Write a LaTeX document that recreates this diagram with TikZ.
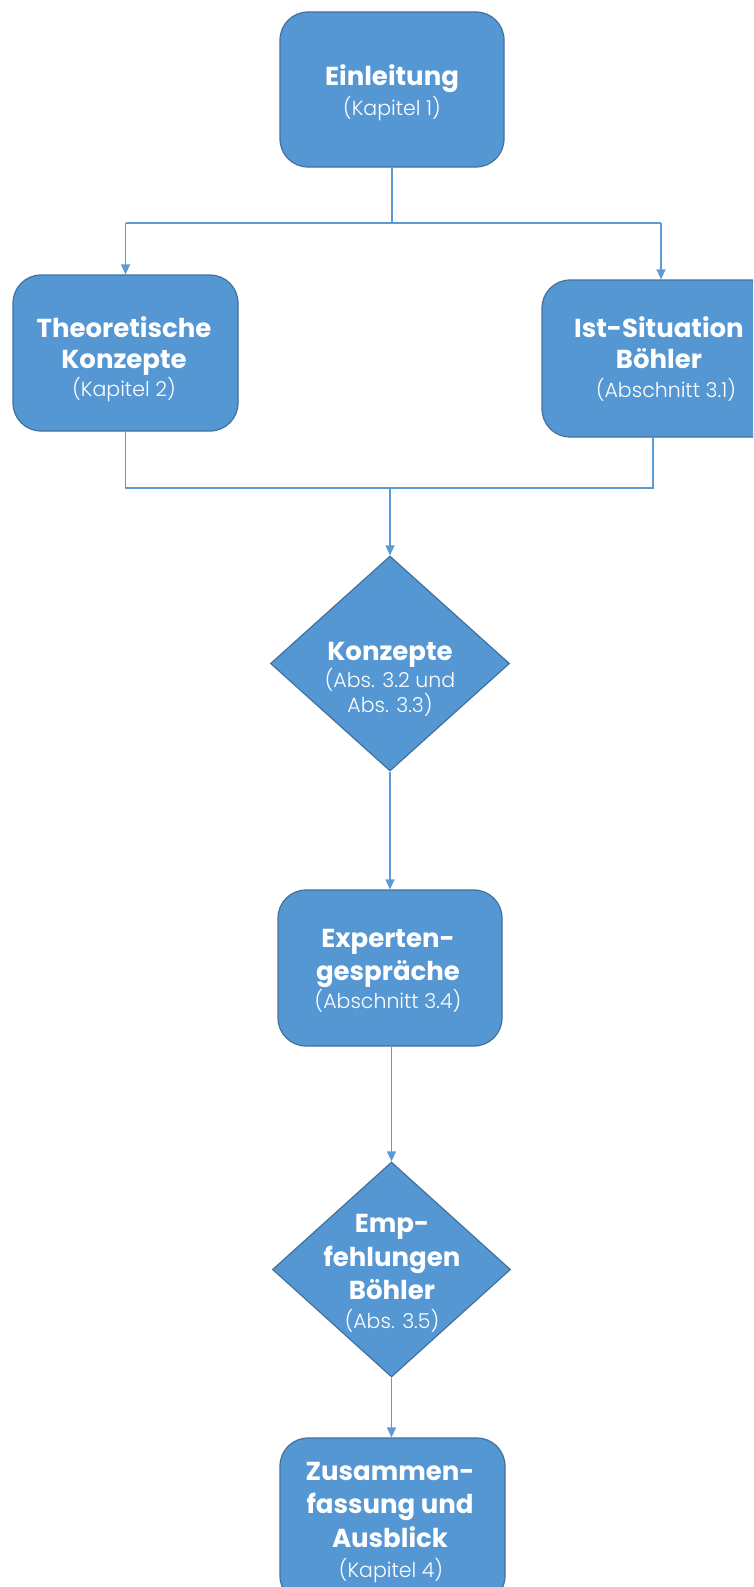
\documentclass[tikz,border=0pt]{standalone}
\usepackage{fontspec}
\setmainfont{Poppins}[BoldFont=* Bold]
\newfontfamily\lightfont{Poppins}[UprightFont=* Light]
\usetikzlibrary{shapes.geometric,arrows.meta}
\definecolor{boxfill}{HTML}{5597D3}
\definecolor{boxline}{HTML}{41719C}
\definecolor{conline}{HTML}{5B9BD5}
\tikzset{
  roundbox/.style={draw=boxline, line width=1.2pt, fill=boxfill, rounded corners=28pt, inner sep=0pt},
  dia/.style={diamond, draw=boxline, line width=1.2pt, fill=boxfill, inner sep=0pt},
  bl/.style={text=white, anchor=base, inner sep=0pt, font=\fontsize{26}{30}\selectfont\bfseries},
  sl/.style={text=white, anchor=base, inner sep=0pt, font=\fontsize{20.5}{24}\selectfont\lightfont},
  con/.style={draw=conline, line width=1.4pt},
  arr/.style={con, -{Triangle[width=9pt,length=10pt]}}
}
\begin{document}
\begin{tikzpicture}[x=1pt,y=-1pt]
\useasboundingbox (0,0) rectangle (753,1587);
\clip (0,0) rectangle (753,1587);
% shapes
\node[roundbox, minimum width=224pt, minimum height=155pt] (ein) at (392,89.5) {};
\node[roundbox, minimum width=225pt, minimum height=156pt] (theo) at (125.5,353) {};
\node[roundbox, minimum width=238pt, minimum height=157pt] (ist) at (661,358.5) {};
\node[dia, minimum width=239pt, minimum height=215pt] (konz) at (390,663.5) {};
\node[roundbox, minimum width=224pt, minimum height=156pt] (exp) at (390,968) {};
\node[dia, minimum width=238pt, minimum height=215pt] (empf) at (391.5,1269.5) {};
\node[roundbox, minimum width=225pt, minimum height=166pt] (zus) at (392.5,1521) {};
% texts
\node[bl] (ein1) at (392,85) {Einleitung};
\node[sl] (ein2) at (392,115.5) {(Kapitel 1)};
\node[bl] (theo1) at (124,337) {Theoretische};
\node[bl] (theo2) at (124,368) {Konzepte};
\node[sl] (theo3) at (124,396) {(Kapitel 2)};
\node[bl] (ist1) at (659,337) {Ist-Situation};
\node[bl] (ist2) at (659,368) {Böhler};
\node[sl] (ist3) at (666,397) {(Abschnitt 3.1)};
\node[bl] (konz1) at (390,660) {Konzepte};
\node[sl] (konz2) at (390,687) {(Abs. 3.2 und};
\node[sl] (konz3) at (390,712) {Abs. 3.3)};
\node[bl] (exp1) at (388,947) {Experten-};
\node[bl] (exp2) at (388,980) {gespräche};
\node[sl] (exp3) at (388,1008) {(Abschnitt 3.4)};
\node[bl] (empf1) at (392,1232.5) {Emp-};
\node[bl] (empf2) at (392,1266.5) {fehlungen};
\node[bl] (empf3) at (392,1299) {Böhler};
\node[sl] (empf4) at (392,1328) {(Abs. 3.5)};
\node[bl] (zus1) at (390,1480) {Zusammen-};
\node[bl] (zus2) at (390,1513) {fassung und};
\node[bl] (zus3) at (390,1547) {Ausblick};
\node[sl] (zus4) at (391,1577) {(Kapitel 4)};
% connectors
\coordinate (s1) at (392,223);
\coordinate (sL) at (125.5,223);
\coordinate (sR) at (661,223);
\draw[con] (ein.south) -- (s1);
\draw[con] (sL) -- (sR);
\draw[arr] (sL) -- (theo.north);
\draw[arr] (sR) -- (ist.north);
\coordinate (jL) at (125.5,488);
\coordinate (jR) at (653,488);
\coordinate (jM) at (390,488);
\coordinate (istB) at (653,437);
\draw[con] (theo.south) -- (jL) -- (jR) -- (istB);
\draw[arr] (jM) -- (konz.north);
\draw[arr] (konz.south) -- (exp.north);
\draw[arr] (exp.south -| empf.north) -- (empf.north);
\draw[arr] (empf.south) -- (empf.south |- zus.north);
\end{tikzpicture}
\end{document}
